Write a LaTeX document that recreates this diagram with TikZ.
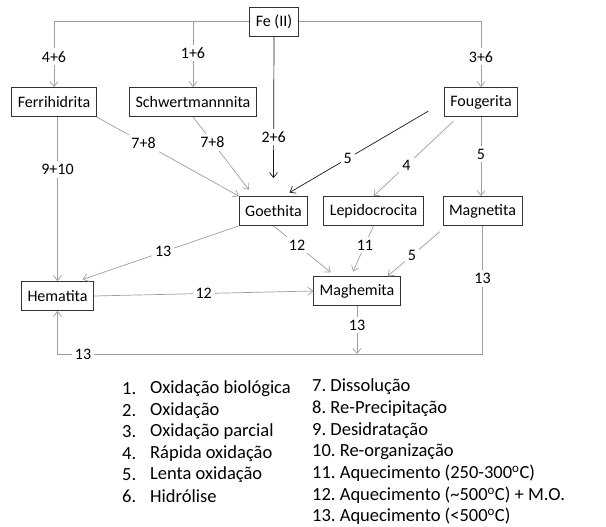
\documentclass[tikz,border=0pt]{standalone}
\usepackage{fontspec}
\setmainfont{Carlito}
\usetikzlibrary{arrows.meta}
\frenchspacing

\begin{document}
\begin{tikzpicture}[x=1pt, y=-1pt,
  mineral/.style={rectangle, draw=black!80, line width=0.8pt, inner xsep=6pt,
    minimum height=29pt, font=\fontsize{16}{19}\selectfont},
  conn/.style={draw=black!38, line width=0.7pt, -{Straight Barb[length=5pt,width=8pt]}},
  blk/.style={conn, draw=black!90},
  lbl/.style={fill=white, inner sep=3pt, font=\fontsize{16}{19}\selectfont},
  legend/.style={anchor=west, inner sep=0pt, font=\fontsize{18.5}{22}\selectfont}]
\useasboundingbox (0,0) rectangle (606,527);

\node[mineral] (fe) at (274,21.5) {Fe (II)};
\node[mineral] (ferri) at (54,102) {Ferrihidrita};
\node[mineral] (schw) at (193,102) {Schwertmannnita};
\node[mineral] (foug) at (481,102) {Fougerita};
\node[mineral] (goe) at (273.5,211) {Goethita};
\node[mineral] (lepi) at (373.5,211) {Lepidocrocita};
\node[mineral] (magne) at (482.5,211) {Magnetita};
\node[mineral] (hema) at (57.5,296) {Hematita};
\node[mineral] (maghe) at (357,291) {Maghemita};
\coordinate (base) at (0,354);

\draw[conn] (fe.west) -| node[lbl, pos=0.77] {4+6} (ferri.north);
\draw[conn] (fe.west -| schw.north) -- node[lbl, pos=0.48] {1+6} (schw.north);
\draw[conn] (fe.east) -| node[lbl, pos=0.77] {3+6} (foug.north);
\draw[blk] (fe.south) -- node[lbl, pos=0.71] {2+6} ([yshift=18pt]goe.north);
\draw[blk, shorten <=18pt, shorten >=7pt] (foug.west) -- node[lbl, pos=0.6] {5} ([xshift=10pt]goe.north);
\draw[conn, shorten <=6pt] ([xshift=-23pt]foug.south) -- node[lbl, pos=0.61] {4} (lepi.north);
\draw[conn] (foug.south) -- node[lbl, pos=0.47] {5} (foug.south |- magne.north);
\draw[conn] (ferri.south east) -- node[lbl, pos=0.33] {7+8} (goe.north west);
\draw[conn, shorten >=8pt] (schw.south) -- node[lbl, pos=0.32] {7+8} ([xshift=15pt]goe.north west);
\draw[conn] (hema.north |- ferri.south) -- node[lbl, pos=0.32] {9+10} (hema.north);
\draw[conn, shorten >=5pt] (goe.south west) -- node[lbl, pos=0.47] {13} ([xshift=-16pt]hema.north east);
\draw[conn, shorten >=6pt] (goe.south) -- node[lbl, pos=0.38] {12} ([xshift=22pt]maghe.north west);
\draw[conn, shorten >=5pt] (lepi.south) -- node[lbl, pos=0.38] {11} ([xshift=-6pt]maghe.north);
\draw[conn, shorten <=9pt] ([xshift=4pt]magne.south west) -- node[lbl, pos=0.59] {5} ([xshift=-13pt]maghe.north east);
\draw[conn] (hema.east) -- node[lbl] {12} (maghe.west);
\draw[conn] (maghe.south) -- node[lbl, pos=0.4] {13} (maghe.south |- base);
\draw[conn] (magne.south) -- node[lbl, pos=0.41] {13} (magne.south |- base)
  -- node[lbl, pos=0.94] {13} (hema.south |- base) -- (hema.south);

\foreach \txt [count=\i] in {Oxidação biológica, Oxidação, Oxidação parcial,
    Rápida oxidação, Lenta oxidação, Hidrólise} {
  \node[legend] (num\i) at (122,{389+21.5*(\i-1)}) {\i.};
  \node[legend] (item\i) at (150,{389+21.5*(\i-1)}) {\txt};
}
\foreach \txt [count=\i from 7] in {Dissolução, Re-Precipitação, Desidratação,
    Re-organização, Aquecimento (250-300\textsuperscript{o}C),
    Aquecimento (\textasciitilde500\textsuperscript{o}C) + M.O.,
    Aquecimento (<500\textsuperscript{o}C)} {
  \node[legend] (item\i) at (312,{387+21.6*(\i-7)}) {\i. \txt};
}
\end{tikzpicture}
\end{document}
